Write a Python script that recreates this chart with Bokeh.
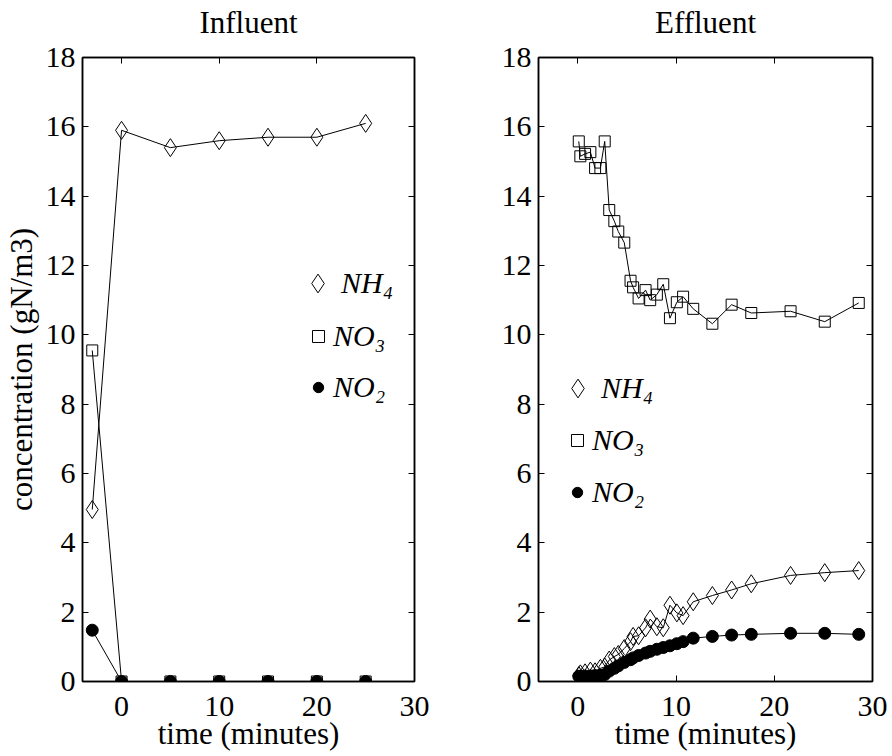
from bokeh.plotting import figure
from bokeh.models import LinearAxis, FixedTicker, Legend, LegendItem, Range1d
from bokeh.layouts import row
from bokeh.embed import file_html
from bokeh.resources import INLINE

FONT = "Liberation Serif"

# ---------------- data ----------------
inf_time = [-3, 0, 5, 10, 15, 20, 25]
inf_nh4 = [4.96, 15.9, 15.4, 15.6, 15.7, 15.7, 16.1]
inf_no3 = [9.55, 0, 0, 0, 0, 0, 0]
inf_no2 = [1.48, 0, 0, 0, 0, 0, 0]

eff_time = [0.1, 0.26, 0.74, 1.28, 1.76, 2.3, 2.74, 3.2, 3.72, 4.12, 4.73, 5.37, 5.63,
            6.19, 6.9, 7.37, 8.05, 8.7, 9.38, 10.08, 10.72, 11.75, 13.7, 15.66, 17.66,
            21.66, 25.14, 28.6]
eff_no3 = [15.58, 15.15, 15.22, 15.27, 14.81, 14.81, 15.58, 13.6, 13.28, 12.98, 12.66,
           11.56, 11.37, 11.05, 11.29, 11.0, 11.16, 11.46, 10.48, 10.94, 11.1, 10.75,
           10.32, 10.87, 10.63, 10.68, 10.38, 10.92]
eff_nh4 = [0.17, 0.22, 0.25, 0.3, 0.28, 0.38, 0.42, 0.62, 0.72, 0.78, 0.95, 1.15, 1.3,
           1.32, 1.55, 1.8, 1.58, 1.55, 2.2, 1.98, 1.9, 2.3, 2.48, 2.64, 2.82, 3.06,
           3.14, 3.2]
eff_no2 = [0.15, 0.15, 0.16, 0.16, 0.17, 0.18, 0.2, 0.3, 0.38, 0.45, 0.55, 0.63, 0.68,
           0.75, 0.82, 0.87, 0.93, 0.98, 1.03, 1.09, 1.15, 1.25, 1.30, 1.34, 1.36, 1.39,
           1.39, 1.36]

titles = ["Influent", "Effluent"]
x_ticks = [0, 10, 20, 30]
y_ticks = [0, 2, 4, 6, 8, 10, 12, 14, 16, 18]
series_labels = ["NH\u2084", "NO\u2083", "NO\u2082"]
x_label = "time (minutes)"
y_label = "concentration (gN/m3)"

X_MIN, X_MAX, Y_MIN, Y_MAX = -4, 30, 0, 18


def style_axis(ax, labels=True):
    ax.major_tick_in = 6
    ax.major_tick_out = 0
    ax.minor_tick_in = 0
    ax.minor_tick_out = 0
    ax.axis_line_width = 1.5
    ax.axis_line_color = "black"
    ax.major_tick_line_color = "black"
    ax.major_tick_line_width = 1
    ax.major_label_text_font = FONT
    ax.major_label_text_color = "black"
    if labels:
        ax.major_label_text_font_size = "30px"
    else:
        ax.major_label_text_font_size = "0px"
        ax.major_label_standoff = 0


def make_fig(title, left, right, with_ylabel):
    p = figure(width=446, height=756, x_range=Range1d(X_MIN, X_MAX),
               y_range=Range1d(Y_MIN, Y_MAX),
               output_backend="svg", toolbar_location=None,
               min_border_left=left, min_border_right=right,
               min_border_top=57, min_border_bottom=75)
    p.grid.visible = False
    p.outline_line_color = "black"
    p.outline_line_width = 1.5
    p.background_fill_color = "white"
    p.border_fill_color = "white"

    p.xaxis.ticker = FixedTicker(ticks=x_ticks)
    p.yaxis.ticker = FixedTicker(ticks=y_ticks)
    for ax in p.xaxis:
        style_axis(ax)
        ax.major_label_standoff = 15
        ax.axis_label = x_label
        ax.axis_label_text_font = FONT
        ax.axis_label_text_font_size = "31px"
        ax.axis_label_text_font_style = "normal"
        ax.axis_label_text_color = "black"
        ax.axis_label_standoff = -3
    for ax in p.yaxis:
        style_axis(ax)
        ax.major_label_standoff = 7
        if with_ylabel:
            ax.axis_label = y_label
            ax.axis_label_text_font = FONT
            ax.axis_label_text_font_size = "31px"
            ax.axis_label_text_font_style = "normal"
            ax.axis_label_text_color = "black"
            ax.axis_label_standoff = 4

    # top axis: inward ticks only; its axis label serves as the panel title
    top = LinearAxis(ticker=FixedTicker(ticks=x_ticks))
    style_axis(top, labels=False)
    top.major_label_overrides = {t: "" for t in x_ticks}
    top.axis_label = title
    top.axis_label_text_font = FONT
    top.axis_label_text_font_size = "31px"
    top.axis_label_text_font_style = "normal"
    top.axis_label_text_color = "black"
    top.axis_label_standoff = 18
    p.add_layout(top, "above")
    rgt = LinearAxis(ticker=FixedTicker(ticks=y_ticks))
    style_axis(rgt, labels=False)
    rgt.major_label_overrides = {t: "" for t in y_ticks}
    p.add_layout(rgt, "right")
    return p


def draw_series(p, t, nh4, no3, no2):
    p.line(t, nh4, line_color="black", line_width=1)
    r1 = p.scatter(t, nh4, marker="diamond", size=18, line_color="black", line_width=1,
                   fill_alpha=0)
    p.line(t, no3, line_color="black", line_width=1)
    r2 = p.scatter(t, no3, marker="square", size=11, line_color="black", line_width=1,
                   fill_alpha=0)
    p.line(t, no2, line_color="black", line_width=1)
    r3 = p.scatter(t, no2, marker="circle", size=12, line_color="black", line_width=1,
                   fill_color="black")
    return [r1, r2, r3]


def add_legends(p, renderers, frame_left, cx, cys):
    # glyph widths so that the key sizes (0.4 * glyph box) match the reference
    gws = [47, 30, 26]
    gh = 48
    frame_bottom = 681
    for r, lab, gw, cy in zip(renderers, series_labels, gws, cys):
        leg = Legend(items=[LegendItem(label=lab, renderers=[r])],
                     location=(int(round(cx - gw / 2 - frame_left)),
                               int(round(frame_bottom - cy - gh / 2))),
                     glyph_width=gw, glyph_height=gh, label_height=10,
                     label_standoff=int(round(15 - gw / 2)),
                     padding=0, margin=0, spacing=0,
                     border_line_color=None, background_fill_alpha=0,
                     label_text_font=FONT, label_text_font_size="30px",
                     label_text_font_style="italic", label_text_color="black")
        p.add_layout(leg)


p1 = make_fig(titles[0], 81, 32, True)
rs1 = draw_series(p1, inf_time, inf_nh4, inf_no3, inf_no2)
add_legends(p1, rs1, 81, 317, [283, 336, 387])

p2 = make_fig(titles[1], 92, 20, False)
rs2 = draw_series(p2, eff_time, eff_nh4, eff_no3, eff_no2)
add_legends(p2, rs2, 92, 577 - 446, [388, 440, 492])

layout = row(p1, p2, spacing=0)
open("out.html", "w").write(file_html(layout, INLINE))
